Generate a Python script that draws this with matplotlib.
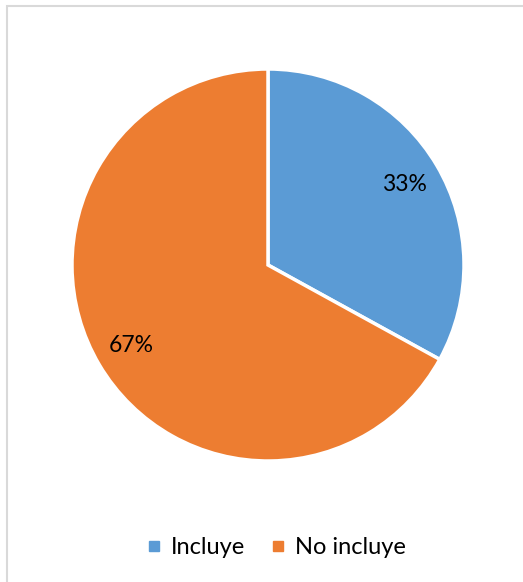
import matplotlib
matplotlib.use("Agg")
import matplotlib.pyplot as plt
from matplotlib.patches import Rectangle
from matplotlib.lines import Line2D

categories = ["Incluye", "No incluye"]
values = [33, 67]
colors = ["#5B9BD5", "#ED7D31"]

plt.rcParams['font.family'] = ['Lato', 'DejaVu Sans']

W, H = 523, 582
fig = plt.figure(figsize=(W/100, H/100), dpi=100)

# border (only left/top visible in the reference)
fig.patches.append(Rectangle((7/W, -0.1), 1.2, (H-6)/H + 0.1, transform=fig.transFigure,
                             fill=False, edgecolor="#D9D9D9", linewidth=1.5))

cx, cy, r = 268, 265, 196
ax = fig.add_axes([(cx-r)/W, (H-cy-r)/H, 2*r/W, 2*r/H])
wedges, texts, autotexts = ax.pie(values, colors=colors, startangle=90, counterclock=False,
                                  autopct=lambda p: f"{p:.0f}%", pctdistance=0.81,
                                  wedgeprops=dict(edgecolor="white", linewidth=2.5),
                                  textprops=dict(fontsize=16.5, color="black"))
ax.set_xlim(-1, 1)
ax.set_ylim(-1, 1)
ax.set_aspect("equal")

handles = [Line2D([0], [0], marker="s", linestyle="none", markersize=7.5,
                  markerfacecolor=c, markeredgecolor=c) for c in colors]
fig.legend(handles, categories, loc="center", bbox_to_anchor=(274/W, 1-548/H),
           ncol=2, frameon=False, fontsize=17, handletextpad=0.2, columnspacing=0.9,
           handlelength=1.0)

fig.savefig("out.png", dpi=100)
